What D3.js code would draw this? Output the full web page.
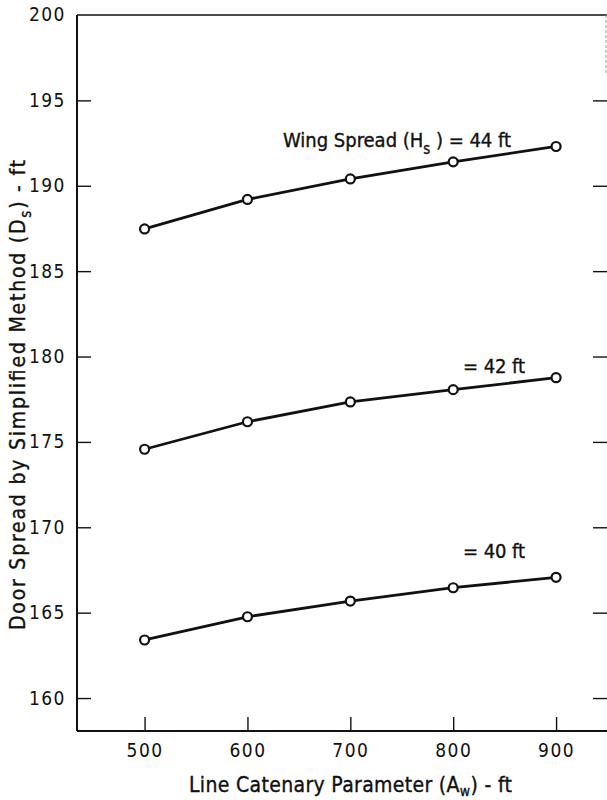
<!DOCTYPE html>
<html>
<head>
<meta charset="utf-8">
<script src="https://cdn.jsdelivr.net/npm/d3@7"></script>
<style>
  html, body { margin: 0; padding: 0; background: #fff; }
  svg { display: block; }
  text { fill: #111; }
</style>
</head>
<body>
<svg id="chart" width="607" height="800"></svg>
<script>
// ---- data ----
const catenary = [500, 600, 700, 800, 900];
const spread44 = [187.47, 189.2, 190.4, 191.4, 192.3];
const spread42 = [174.57, 176.18, 177.34, 178.06, 178.76];
const spread40 = [163.4, 164.76, 165.68, 166.46, 167.07];
const seriesLabels = ["44", "42", "40"];
const xTicks = [500, 600, 700, 800, 900];
const yTicks = [160, 165, 170, 175, 180, 185, 190, 195, 200];

(function () {
const FONT = "'Liberation Sans Narrow', 'DejaVu Sans Condensed', 'Liberation Sans', sans-serif";

const svg = d3.select("#chart");
const pLeft = 77, pRight = 607, pTop = 15, pBottom = 731;

const x = d3.scaleLinear().domain([434.3, 949.5]).range([pLeft, pRight]);
const y = d3.scaleLinear().domain([158.07, 200]).range([pBottom, pTop]);

const ink = "#111";
const textStroke = sel => sel.attr("stroke", ink).attr("stroke-width", 0.35);

// frame: left, bottom, top
svg.append("line").attr("x1", pLeft).attr("x2", pLeft).attr("y1", pTop).attr("y2", pBottom)
  .attr("stroke", ink).attr("stroke-width", 2);
svg.append("line").attr("x1", pLeft).attr("x2", pRight).attr("y1", pBottom).attr("y2", pBottom)
  .attr("stroke", ink).attr("stroke-width", 2);
svg.append("line").attr("x1", pLeft).attr("x2", pRight).attr("y1", pTop).attr("y2", pTop)
  .attr("stroke", ink).attr("stroke-width", 1.6);
// faint right edge segment
svg.append("line").attr("x1", 606).attr("x2", 606).attr("y1", pTop).attr("y2", 75)
  .attr("stroke", "#999").attr("stroke-width", 1).attr("stroke-dasharray", "3,2");

// left axis
const yAxis = d3.axisLeft(y).tickValues(yTicks.filter(v => v < 200)).tickSize(-14).tickPadding(11)
  .tickFormat(d3.format("d"));
const gy = svg.append("g").attr("transform", `translate(${pLeft},0)`).call(yAxis);
gy.select(".domain").remove();
gy.selectAll(".tick line").attr("stroke", ink).attr("stroke-width", 1.4);
gy.selectAll(".tick text").attr("font-family", FONT).attr("font-size", 19)
  .attr("letter-spacing", 1.5).attr("fill", ink);
// "200" label at top
svg.append("text").attr("x", pLeft - 11).attr("y", y(200)).attr("dy", "0.32em")
  .attr("text-anchor", "end").attr("font-family", FONT).attr("font-size", 19)
  .attr("letter-spacing", 1.5).text(yTicks[yTicks.length - 1]);

// right ticks (inward)
const yAxisR = d3.axisRight(y).tickValues(yTicks.filter(v => v < 200)).tickSize(-14).tickFormat("");
const gyr = svg.append("g").attr("transform", `translate(${pRight},0)`).call(yAxisR);
gyr.select(".domain").remove();
gyr.selectAll(".tick line").attr("stroke", ink).attr("stroke-width", 1.4);

// bottom axis
const xAxis = d3.axisBottom(x).tickValues(xTicks).tickSize(-14).tickPadding(13)
  .tickFormat(d3.format("d"));
const gx = svg.append("g").attr("transform", `translate(0,${pBottom})`).call(xAxis);
gx.select(".domain").remove();
gx.selectAll(".tick line").attr("stroke", ink).attr("stroke-width", 1.4);
gx.selectAll(".tick text").attr("font-family", FONT).attr("font-size", 19)
  .attr("letter-spacing", 1.5).attr("fill", ink);

// series
const series = [spread44, spread42, spread40];
const line = d3.line().x((d, i) => x(catenary[i])).y(d => y(d));
series.forEach(vals => {
  svg.append("path").datum(vals).attr("d", line)
    .attr("fill", "none").attr("stroke", ink).attr("stroke-width", 2.8);
  svg.selectAll(null).data(vals).enter().append("circle")
    .attr("cx", (d, i) => x(catenary[i])).attr("cy", d => y(d)).attr("r", 4.5)
    .attr("fill", "#fff").attr("stroke", ink).attr("stroke-width", 2.2);
});

// series labels
const lab44 = svg.append("text").attr("x", 283).attr("y", 147)
  .attr("font-family", FONT).attr("font-size", 20)
  .attr("textLength", 228).attr("lengthAdjust", "spacing").call(textStroke);
lab44.append("tspan").text("Wing Spread  (H");
lab44.append("tspan").attr("font-size", 15).attr("dy", 7).text("s");
lab44.append("tspan").attr("dy", -7).text(" )  =  " + seriesLabels[0] + " ft");

svg.append("text").attr("x", 463).attr("y", 373)
  .attr("font-family", FONT).attr("font-size", 20)
  .attr("textLength", 62).attr("lengthAdjust", "spacing").call(textStroke)
  .text("= " + seriesLabels[1] + "  ft");
svg.append("text").attr("x", 463).attr("y", 558)
  .attr("font-family", FONT).attr("font-size", 20)
  .attr("textLength", 62).attr("lengthAdjust", "spacing").call(textStroke)
  .text("= " + seriesLabels[2] + "  ft");

// x axis title
const xt = svg.append("text").attr("x", 189).attr("y", 792)
  .attr("font-family", FONT).attr("font-size", 21)
  .attr("textLength", 323).attr("lengthAdjust", "spacing").call(textStroke);
xt.append("tspan").text("Line Catenary Parameter  (A");
xt.append("tspan").attr("font-size", 14).attr("dy", 4).text("w");
xt.append("tspan").attr("dy", -4).text(")  -  ft");

// y axis title
const yt = svg.append("text").attr("transform", "translate(25,630) rotate(-90)")
  .attr("x", 0).attr("y", 0)
  .attr("font-family", FONT).attr("font-size", 21)
  .attr("textLength", 470).attr("lengthAdjust", "spacing").call(textStroke);
yt.append("tspan").text("Door Spread  by  Simplified  Method  (D");
yt.append("tspan").attr("font-size", 15).attr("dy", 6).text("s");
yt.append("tspan").attr("dy", -6).text(")  -  ft");
})();
</script>
</body>
</html>
